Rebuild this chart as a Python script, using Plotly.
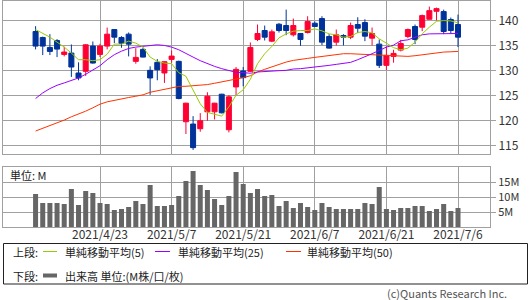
import plotly.graph_objects as go

# ---------------- data ----------------
dates = ["2021/4/12", "2021/4/13", "2021/4/14", "2021/4/15", "2021/4/16",
         "2021/4/19", "2021/4/20", "2021/4/21", "2021/4/22", "2021/4/23",
         "2021/4/26", "2021/4/27", "2021/4/28", "2021/4/29", "2021/4/30",
         "2021/5/3", "2021/5/4", "2021/5/5", "2021/5/6", "2021/5/7",
         "2021/5/10", "2021/5/11", "2021/5/12", "2021/5/13", "2021/5/14",
         "2021/5/17", "2021/5/18", "2021/5/19", "2021/5/20", "2021/5/21",
         "2021/5/24", "2021/5/25", "2021/5/26", "2021/5/27", "2021/5/28",
         "2021/6/1", "2021/6/2", "2021/6/3", "2021/6/4",
         "2021/6/7", "2021/6/8", "2021/6/9", "2021/6/10", "2021/6/11",
         "2021/6/14", "2021/6/15", "2021/6/16", "2021/6/17", "2021/6/18",
         "2021/6/21", "2021/6/22", "2021/6/23", "2021/6/24", "2021/6/25",
         "2021/6/28", "2021/6/29", "2021/6/30", "2021/7/1", "2021/7/2",
         "2021/7/6"]

tick_dates = ["2021/4/23", "2021/5/7", "2021/5/21", "2021/6/7", "2021/6/21", "2021/7/6"]

opens = [137.82, 136.63, 134.64, 136.03, 133.25, 133.52, 129.55, 129.88, 134.91, 133.25,
         134.91, 138.21, 136.63, 137.29, 131.87, 134.25, 130.08, 131.67, 129.55, 132.26,
         131.87, 119.83, 119.37, 118.44, 121.81, 121.81, 125.32, 118.24, 126.77, 129.95,
         129.88, 136.23, 138.02, 135.90, 139.27, 139.01, 137.16, 137.42, 137.62, 139.47,
         140.40, 136.83, 135.70, 137.02, 136.69, 139.21, 139.60, 136.49, 135.30, 131.07,
         132.86, 134.11, 136.83, 138.81, 138.68, 140.26, 141.85, 141.79, 140.20, 139.21]
highs = [138.88, 136.80, 137.29, 136.30, 134.78, 135.24, 131.67, 135.30, 135.83, 135.37,
         138.61, 138.30, 136.89, 137.62, 134.51, 134.58, 130.87, 132.33, 131.87, 134.05,
         132.00, 123.60, 120.95, 121.55, 125.71, 123.60, 125.40, 125.12, 130.74, 130.74,
         135.63, 139.21, 139.00, 138.21, 139.50, 142.18, 140.40, 137.50, 140.86, 139.80,
         140.86, 137.29, 138.21, 137.29, 139.60, 140.66, 140.26, 138.61, 136.23, 134.84,
         134.18, 136.16, 138.41, 139.21, 141.19, 142.78, 142.58, 142.18, 140.60, 141.19]
lows = [134.25, 133.12, 133.12, 132.72, 132.86, 128.76, 128.10, 128.96, 131.40, 132.72,
        134.25, 135.50, 134.58, 132.86, 131.40, 132.66, 125.19, 128.10, 127.57, 131.60,
        124.30, 117.38, 114.21, 117.84, 120.03, 120.29, 121.48, 117.71, 125.12, 126.90,
        129.70, 135.90, 136.03, 135.70, 137.62, 137.09, 136.83, 134.97, 137.42, 138.70,
        135.11, 134.40, 135.04, 135.04, 136.30, 137.49, 135.90, 135.04, 130.54, 130.15,
        131.60, 133.85, 136.49, 135.30, 137.88, 140.20, 140.00, 137.29, 137.42, 134.71]
closes = [134.91, 134.91, 133.85, 134.31, 133.72, 130.74, 128.56, 135.17, 131.53, 134.91,
          137.29, 136.69, 135.44, 135.30, 132.66, 132.72, 128.56, 130.21, 131.80, 132.92,
          124.46, 123.53, 114.67, 120.03, 124.92, 123.53, 121.61, 124.79, 130.28, 128.62,
          134.64, 137.42, 136.69, 137.75, 138.02, 138.02, 139.01, 136.23, 139.80, 138.81,
          135.70, 134.51, 137.16, 136.69, 139.01, 138.48, 136.89, 137.42, 131.07, 133.06,
          133.45, 135.44, 138.21, 136.23, 140.99, 141.98, 142.38, 137.82, 138.02, 136.69]

ma5 = [138.21, 137.49, 136.69, 135.70, 134.71, 133.52, 132.20, 132.20, 132.00, 132.20,
       133.30, 135.30, 135.30, 135.90, 135.50, 134.71, 132.72, 131.87, 131.53, 131.40,
       129.60, 128.90, 126.20, 123.40, 121.70, 121.35, 120.95, 122.80, 125.12, 126.20,
       128.30, 131.40, 133.39, 134.84, 136.56, 137.35, 137.88, 138.02, 138.02, 138.35,
       137.95, 137.35, 137.16, 136.69, 136.83, 137.62, 137.82, 137.55, 136.36, 135.50,
       134.60, 134.18, 134.51, 135.70, 137.35, 138.68, 139.87, 140.00, 139.93, 139.54]
ma25 = [124.46, 125.58, 126.44, 127.10, 127.57, 128.10, 128.56, 129.29, 130.08, 131.00,
        132.20, 133.20, 133.90, 134.44, 134.71, 134.91, 135.04, 135.17, 135.04, 134.71,
        134.18, 133.52, 132.72, 132.00, 131.40, 130.87, 130.41, 130.01, 129.68, 129.62,
        129.50, 129.75, 129.88, 129.95, 130.01, 130.08, 130.34, 130.41, 130.54, 130.67,
        130.84, 131.07, 131.27, 131.53, 131.67, 132.20, 132.72, 133.39, 134.05, 134.71,
        135.10, 135.97, 136.16, 136.69, 137.16, 137.35, 137.35, 137.35, 137.35, 137.42]
ma50 = [117.98, 118.50, 119.03, 119.63, 120.16, 120.82, 121.35, 121.94, 122.61, 123.33,
        123.80, 124.13, 124.39, 124.66, 124.92, 125.19, 125.71, 125.98, 126.38, 126.64,
        126.87, 126.90, 126.97, 127.10, 127.24, 127.50, 127.76, 128.03, 128.36, 128.62,
        129.00, 129.75, 130.28, 130.81, 131.27, 131.73, 132.06, 132.33, 132.46, 132.66,
        132.82, 132.99, 133.19, 133.39, 133.39, 133.25, 133.25, 133.19, 133.12, 133.06,
        132.95, 132.86, 132.86, 132.99, 133.19, 133.39, 133.58, 133.72, 133.78, 133.85]

volume = [11.1, 8.1, 8.1, 8.1, 7.8, 12.8, 7.4, 12.1, 11.4, 8.1,
          7.8, 5.8, 6.1, 6.8, 8.8, 7.8, 14.1, 7.1, 7.1, 7.4,
          10.4, 15.4, 18.8, 14.1, 12.4, 9.4, 7.4, 10.4, 18.4, 14.4,
          11.4, 12.8, 10.4, 10.8, 7.1, 8.8, 6.4, 8.1, 6.8, 5.8,
          8.1, 6.8, 6.1, 6.1, 6.1, 6.1, 8.1, 7.8, 13.4, 6.1,
          5.8, 6.4, 6.4, 7.1, 7.1, 5.4, 6.1, 7.8, 5.4, 6.4]

price_ticks = [115, 120, 125, 130, 135, 140]
vol_ticks = [5, 10, 15]
vol_tick_text = ["5M", "10M", "15M"]

# ---------------- styles ----------------
W, H = 530, 300
UP = "#ff0033"
DOWN = "#003399"
C_MA5 = "#99cc00"
C_MA25 = "#9900ff"
C_MA50 = "#ff3300"
C_VOL = "#666666"
GRID = "#a0a0a0"
FONT = "Noto Sans CJK JP"
TXT = "#333333"
LEG = "#222222"

def px_x(p):
    return p / W

def px_y(p):
    return 1 - p / H

xrange_ = [-4.55, 63.47]
xdom = [px_x(3), px_x(490)]

fig = go.Figure()
fig.add_trace(go.Candlestick(
    x=dates, open=opens, high=highs, low=lows, close=closes,
    increasing=dict(line=dict(color=UP, width=1), fillcolor=UP),
    decreasing=dict(line=dict(color=DOWN, width=1), fillcolor=DOWN),
    whiskerwidth=0, xaxis="x", yaxis="y", showlegend=False, hoverinfo="skip"))
for ma, col in [(ma50, C_MA50), (ma25, C_MA25), (ma5, C_MA5)]:
    fig.add_trace(go.Scatter(x=dates, y=ma, mode="lines", line=dict(color=col, width=1),
                             xaxis="x", yaxis="y", showlegend=False, hoverinfo="skip"))
fig.add_trace(go.Bar(x=dates, y=volume, marker=dict(color=C_VOL, line=dict(width=0)),
                     width=0.7, xaxis="x2", yaxis="y2", showlegend=False, hoverinfo="skip"))

common_x = dict(type="category", range=xrange_, domain=xdom, tickvals=tick_dates,
                showgrid=True, gridcolor=GRID, gridwidth=1, showline=True, mirror=True,
                linecolor=GRID, linewidth=1, zeroline=False, ticks="", fixedrange=True)

fig.update_layout(
    width=W, height=H, margin=dict(l=0, r=0, t=0, b=0),
    paper_bgcolor="white", plot_bgcolor="white",
    font=dict(family=FONT, size=12, color=TXT),
    boxgap=0.3, boxgroupgap=0,
    xaxis=dict(**common_x, anchor="y", showticklabels=False, rangeslider=dict(visible=False)),
    yaxis=dict(domain=[px_y(154), px_y(0.5)], range=[113.4, 144], side="right",
               tickvals=price_ticks, showgrid=True, gridcolor=GRID, showline=True, mirror=True,
               linecolor=GRID, zeroline=False, ticks="outside", ticklen=5, tickcolor=GRID,
               tickfont=dict(size=12, color=TXT), anchor="x"),
    xaxis2=dict(**common_x, anchor="y2", showticklabels=True, ticktext=tick_dates,
                tickfont=dict(size=12, color=TXT), ticklabelstandoff=-4),
    yaxis2=dict(domain=[px_y(227.3), px_y(166.7)], range=[0, 20.2], side="right",
                tickvals=vol_ticks, ticktext=vol_tick_text, showgrid=True, gridcolor=GRID,
                showline=True, mirror=True, linecolor=GRID, zeroline=False,
                ticks="outside", ticklen=5, tickcolor=GRID,
                tickfont=dict(size=11, color=TXT), anchor="x2"),
)

shapes = []
annos = []
# volume unit label
annos.append(dict(x=px_x(8), y=px_y(175), xref="paper", yref="paper", text="単位: M",
                  showarrow=False, xanchor="left", yanchor="middle",
                  font=dict(size=11, color=LEG)))
# legend box
shapes.append(dict(type="rect", xref="paper", yref="paper", x0=px_x(3.5), x1=px_x(527.5),
                   y0=px_y(284), y1=px_y(243.5), line=dict(color=LEG, width=1)))
row1, row2 = 251.5, 275.5
annos.append(dict(x=px_x(11), y=px_y(row1), xref="paper", yref="paper", text="上段:",
                  showarrow=False, xanchor="left", yanchor="middle", font=dict(size=11, color=LEG)))
annos.append(dict(x=px_x(11), y=px_y(row2), xref="paper", yref="paper", text="下段:",
                  showarrow=False, xanchor="left", yanchor="middle", font=dict(size=11, color=LEG)))
legend_items = [(43, 57, 63, C_MA5, "単純移動平均(5)"),
                (155, 170, 176, C_MA25, "単純移動平均(25)"),
                (286, 301, 305, C_MA50, "単純移動平均(50)")]
for x0, x1, tx, col, label in legend_items:
    shapes.append(dict(type="line", xref="paper", yref="paper", x0=px_x(x0), x1=px_x(x1),
                       y0=px_y(row1), y1=px_y(row1), line=dict(color=col, width=1)))
    annos.append(dict(x=px_x(tx), y=px_y(row1), xref="paper", yref="paper", text=label,
                      showarrow=False, xanchor="left", yanchor="middle",
                      font=dict(size=11, color=LEG)))
shapes.append(dict(type="line", xref="paper", yref="paper", x0=px_x(43), x1=px_x(57),
                   y0=px_y(row2), y1=px_y(row2), line=dict(color=C_VOL, width=4)))
annos.append(dict(x=px_x(63), y=px_y(row2), xref="paper", yref="paper",
                  text="出来高 単位:(M株/口/枚)", showarrow=False, xanchor="left",
                  yanchor="middle", font=dict(size=11, color=LEG)))
annos.append(dict(x=px_x(509), y=px_y(293), xref="paper", yref="paper",
                  text="(c)Quants Research Inc.", showarrow=False, xanchor="right",
                  yanchor="middle", font=dict(size=11, color="#555555")))
fig.update_layout(shapes=shapes, annotations=annos)

fig.write_html("out.html")
